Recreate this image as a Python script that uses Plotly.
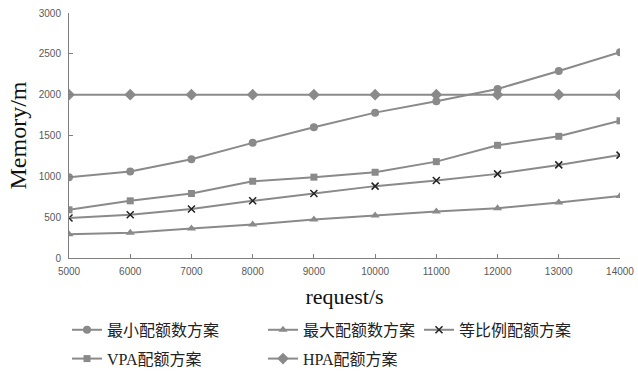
import plotly.graph_objects as go

x_vals = [5000, 6000, 7000, 8000, 9000, 10000, 11000, 12000, 13000, 14000]
min_quota = [990, 1060, 1210, 1410, 1600, 1780, 1920, 2070, 2290, 2520]
max_quota = [290, 310, 360, 410, 470, 520, 570, 610, 680, 760]
prop_quota = [490, 530, 600, 700, 790, 880, 950, 1030, 1140, 1260]
vpa_quota = [590, 700, 790, 940, 990, 1050, 1180, 1380, 1490, 1680]
hpa_quota = [2000, 2000, 2000, 2000, 2000, 2000, 2000, 2000, 2000, 2000]

names = ["最小配额数方案", "最大配额数方案", "等比例配额方案", "VPA配额方案", "HPA配额方案"]

LINE = "#8a8a8a"
fig = go.Figure()

def add(y, name, symbol, size, mcolor, legend, group, mline=None):
    marker = dict(symbol=symbol, size=size, color=mcolor)
    if mline:
        marker["line"] = mline
    fig.add_trace(go.Scatter(
        x=x_vals, y=y, name=name, mode="lines+markers",
        line=dict(color=LINE, width=2), marker=marker,
        legend=legend, legendgroup=group))

add(min_quota, names[0], "circle", 8, LINE, "legend", "g1")
add(max_quota, names[1], "triangle-up", 8, LINE, "legend2", "g2")
add(prop_quota, names[2], "x-thin", 7, "#222222", "legend3", "g3", dict(color="#222222", width=1.5))
add(vpa_quota, names[3], "square", 7, LINE, "legend", "g4")
add(hpa_quota, names[4], "diamond", 9, LINE, "legend2", "g5")

legfont = dict(family="Liberation Serif, Noto Sans CJK SC, serif", size=16, color="#222222")
leg_common = dict(orientation="v", yanchor="top", xanchor="left", font=legfont,
                  bgcolor="rgba(0,0,0,0)", tracegroupgap=5, traceorder="grouped")

LEG_Y = -0.224
fig.update_layout(
    width=638, height=373,
    margin=dict(l=69, r=18, t=13, b=115, autoexpand=False),
    paper_bgcolor="white", plot_bgcolor="white",
    legend=dict(x=-0.0036, y=LEG_Y, **leg_common),
    legend2=dict(x=0.3521, y=LEG_Y, **leg_common),
    legend3=dict(x=0.6352, y=LEG_Y, **leg_common),
    xaxis=dict(
        range=[5000, 14000], dtick=1000, tick0=5000, tickformat="d",
        showgrid=False, zeroline=False,
        showline=True, linecolor="#7f7f7f", linewidth=1,
        ticks="inside", ticklen=4, tickcolor="#7f7f7f", ticklabelstandoff=4,
        tickfont=dict(family="Liberation Sans, Arial, sans-serif", size=10, color="#595959"),
        title=dict(text="request/s", standoff=12,
                   font=dict(family="Liberation Serif, serif", size=22, color="#111111")),
    ),
    yaxis=dict(
        range=[0, 3000], dtick=500,
        showgrid=False, zeroline=False,
        showline=True, linecolor="#7f7f7f", linewidth=1,
        ticks="inside", ticklen=4, tickcolor="#7f7f7f", ticklabelstandoff=5,
        tickfont=dict(family="Liberation Sans, Arial, sans-serif", size=10, color="#595959"),
        title=dict(text="Memory/m", standoff=5,
                   font=dict(family="Liberation Serif, serif", size=24, color="#111111")),
    ),
)

fig.write_html("out.html")
